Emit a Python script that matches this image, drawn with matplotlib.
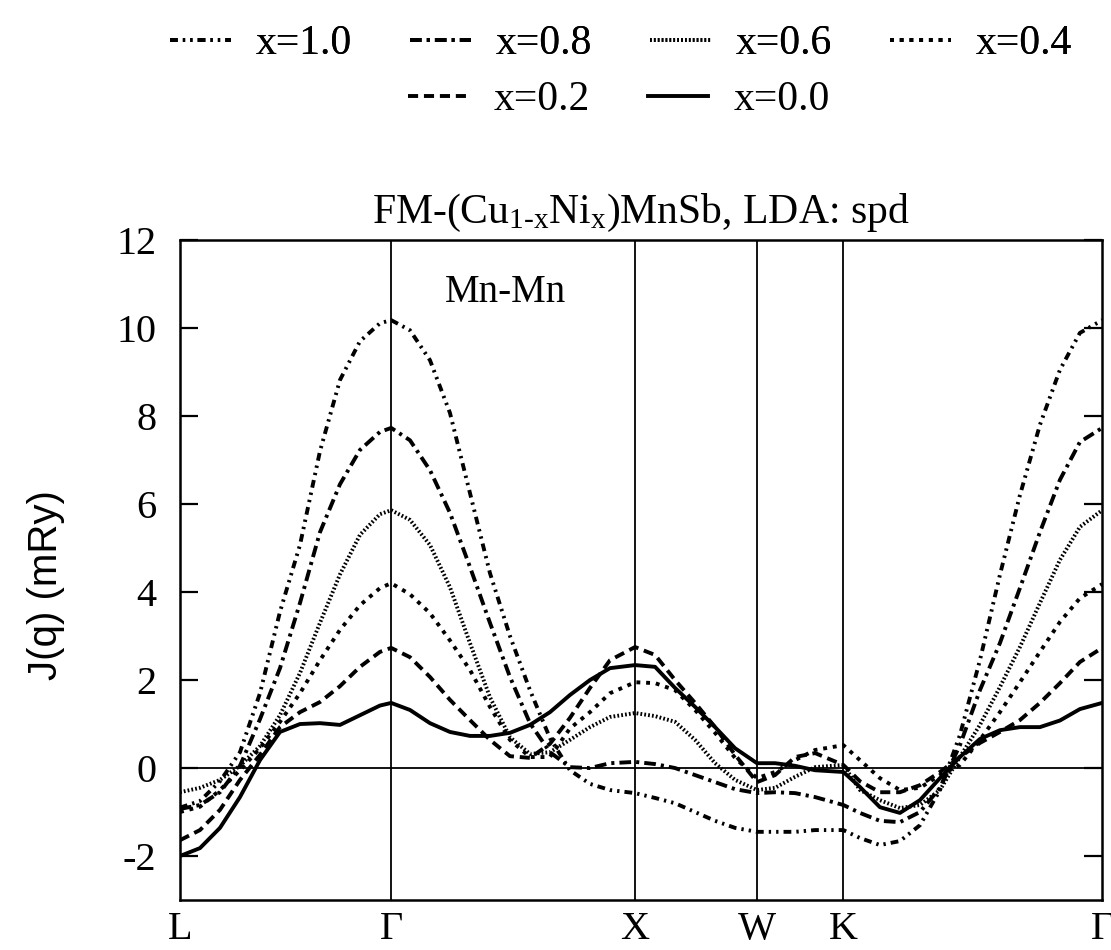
import matplotlib
matplotlib.use("Agg")
import matplotlib.pyplot as plt
from matplotlib.ticker import FixedLocator, FuncFormatter

plt.rcParams['font.family'] = ['Liberation Serif', 'DejaVu Serif']
plt.rcParams['mathtext.fontset'] = 'custom'
plt.rcParams['mathtext.rm'] = 'Liberation Serif'
plt.rcParams['mathtext.it'] = 'Liberation Serif:italic'

# high-symmetry points along the path L-G-X-W-K-G
sym_pos = [0.0, 0.866, 1.866, 2.366, 2.720, 3.781]
sym_labels = ['L', 'Γ', 'X', 'W', 'K', 'Γ']

# k-path coordinate of the sampled points
k = [0.000, 0.082, 0.164, 0.246, 0.328, 0.410, 0.492, 0.574, 0.656, 0.738, 0.820, 0.866,
     0.943, 1.025, 1.107, 1.189, 1.271, 1.353, 1.435, 1.517, 1.599, 1.681, 1.763, 1.866,
     1.948, 2.030, 2.112, 2.194, 2.276, 2.366,
     2.440, 2.522, 2.604, 2.720,
     2.788, 2.870, 2.952, 3.034, 3.116, 3.198, 3.280, 3.362, 3.444, 3.526, 3.608, 3.690, 3.781]

J_x00 = [-2.00, -1.82, -1.36, -0.66, 0.18, 0.82, 1.00, 1.02, 0.98, 1.20, 1.42, 1.48,
         1.32, 1.02, 0.82, 0.73, 0.73, 0.80, 0.98, 1.27, 1.66, 2.00, 2.27, 2.34,
         2.30, 1.82, 1.39, 0.93, 0.45, 0.11,
         0.11, 0.05, -0.05, -0.09,
         -0.43, -0.89, -1.02, -0.73, -0.23, 0.25, 0.66, 0.86, 0.93, 0.93, 1.08, 1.34, 1.48]

J_x02 = [-1.64, -1.41, -0.95, -0.27, 0.30, 0.93, 1.27, 1.50, 1.86, 2.30, 2.64, 2.73,
         2.52, 2.07, 1.55, 1.09, 0.64, 0.27, 0.23, 0.55, 1.14, 1.82, 2.45, 2.75,
         2.57, 2.00, 1.48, 0.93, 0.30, -0.32,
         -0.16, 0.25, 0.34, 0.07,
         -0.30, -0.55, -0.55, -0.39, -0.09, 0.25, 0.57, 0.82, 1.09, 1.48, 1.93, 2.41, 2.73]

J_x04 = [-1.00, -0.88, -0.50, -0.05, 0.45, 1.05, 1.70, 2.45, 3.14, 3.70, 4.09, 4.20,
         3.95, 3.52, 2.90, 2.23, 1.39, 0.64, 0.25, 0.25, 0.90, 1.27, 1.70, 1.95,
         1.93, 1.77, 1.32, 0.80, 0.23, -0.23,
         -0.09, 0.18, 0.41, 0.52,
         0.18, -0.23, -0.50, -0.45, -0.16, 0.07, 0.64, 1.27, 1.95, 2.64, 3.32, 3.86, 4.18]

J_x06 = [-0.55, -0.45, -0.27, 0.05, 0.50, 1.20, 2.16, 3.30, 4.40, 5.30, 5.77, 5.86,
         5.64, 5.07, 4.11, 2.84, 1.61, 0.70, 0.32, 0.36, 0.64, 0.93, 1.16, 1.25,
         1.18, 1.05, 0.64, 0.11, -0.27, -0.50,
         -0.45, -0.20, 0.02, 0.07,
         -0.50, -0.73, -0.91, -0.84, -0.50, 0.25, 0.98, 1.84, 2.75, 3.75, 4.73, 5.48, 5.86]

J_x08 = [-0.93, -0.84, -0.55, 0.05, 1.11, 2.27, 3.75, 5.36, 6.45, 7.23, 7.64, 7.73,
         7.45, 6.77, 5.80, 4.57, 3.30, 2.07, 1.02, 0.36, 0.02, 0.00, 0.11, 0.14,
         0.09, 0.00, -0.16, -0.32, -0.48, -0.57,
         -0.55, -0.57, -0.66, -0.84,
         -1.02, -1.20, -1.23, -1.00, -0.45, 0.52, 1.77, 2.84, 4.09, 5.36, 6.55, 7.41, 7.73]

J_x10 = [-0.90, -0.75, -0.30, 0.36, 1.70, 3.55, 5.07, 7.20, 8.82, 9.70, 10.11, 10.18,
         9.95, 9.27, 8.07, 6.25, 4.43, 3.00, 1.77, 0.68, -0.05, -0.36, -0.50, -0.57,
         -0.68, -0.80, -1.00, -1.20, -1.36, -1.45,
         -1.45, -1.45, -1.41, -1.41,
         -1.59, -1.75, -1.66, -1.30, -0.50, 0.75, 2.45, 4.39, 6.20, 7.80, 9.05, 9.89, 10.18]

y_ticks = [-2, 0, 2, 4, 6, 8, 10, 12]

fig = plt.figure(figsize=(11.11, 9.5), dpi=100)
ax = fig.add_axes([0.162, 0.0526, 0.830, 0.6947])

lw = 2.8
series = [
    ('x=1.0', J_x10, dict(lw=lw, dashes=(2.0, 1.3, 0.6, 1.3, 0.6, 1.3))),
    ('x=0.8', J_x08, dict(lw=lw, dashes=(3.0, 1.3, 0.8, 1.3))),
    ('x=0.6', J_x06, dict(lw=2.8, dashes=(0.45, 0.55))),
    ('x=0.4', J_x04, dict(lw=lw, dashes=(1.0, 1.5))),
    ('x=0.2', J_x02, dict(lw=lw, dashes=(2.6, 1.5))),
    ('x=0.0', J_x00, dict(lw=2.8)),
]

handles = []
for lab, vals, st in series:
    h, = ax.plot(k, vals, color='black', label=lab, **st)
    handles.append(h)

for p in sym_pos[1:-1]:
    ax.axvline(p, color='black', lw=1.3)
ax.axhline(0, color='black', lw=1.3)

ax.set_xlim(sym_pos[0], sym_pos[-1])
ax.set_ylim(-3, 12)
ax.set_xticks(sym_pos)
ax.set_xticklabels(sym_labels, fontsize=29)
ax.tick_params(axis='x', length=0, pad=8)
ax.yaxis.set_major_locator(FixedLocator(y_ticks))
ax.yaxis.set_major_formatter(FuncFormatter(lambda v, p: '%d' % v))
ax.tick_params(axis='y', direction='in', length=13, width=1.6, labelsize=29,
               right=True, pad=17)
for s in ax.spines.values():
    s.set_linewidth(1.8)

ax.text(1.333, 10.8, 'Mn-Mn', fontsize=28, ha='center', va='center')
ax.set_title(r'FM-(Cu$_{\mathrm{1\text{-}x}}$Ni$_{\mathrm{x}}$)MnSb, LDA: spd',
             fontsize=30, pad=12)
ax.set_ylabel('J(q) (mRy)', fontsize=29, family=['Liberation Sans'])
ax.yaxis.set_label_coords(-0.125, 0.477)

leg_kw = dict(loc='center', frameon=False, fontsize=30, handlelength=1.45,
              handletextpad=0.6, columnspacing=1.4)
leg1 = fig.legend(handles=handles[:4], ncol=4,
                  bbox_to_anchor=(0.559, 1 - 44 / 950), **leg_kw)
leg2 = fig.legend(handles=handles[4:], ncol=2,
                  bbox_to_anchor=(0.557, 1 - 100 / 950), **leg_kw)
fig.add_artist(leg1)

fig.savefig('out.png', dpi=100)
